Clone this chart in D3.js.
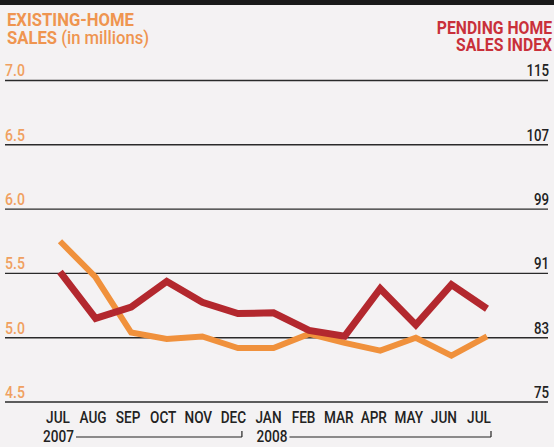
<!DOCTYPE html>
<html>
<head>
<meta charset="utf-8">
<script src="https://cdn.jsdelivr.net/npm/d3@7"></script>
<style>
  html, body { margin: 0; padding: 0; background: #f4f2f3; }
  svg { display: block; }
  text { font-family: "Roboto", "Liberation Sans", sans-serif; }
</style>
</head>
<body>
<div id="chart"></div>
<script>
// Months on the x axis (Jul 2007 - Jul 2008)
var months = ["JUL", "AUG", "SEP", "OCT", "NOV", "DEC", "JAN", "FEB", "MAR", "APR", "MAY", "JUN", "JUL"];

// Existing-home sales, millions (left axis)
var existingSales = [5.75, 5.47, 5.04, 4.99, 5.01, 4.92, 4.92, 5.03, 4.96, 4.90, 5.00, 4.86, 5.01];

// Pending home sales index (right axis)
var pendingIndex = [91.2, 85.4, 86.8, 90.0, 87.4, 86.0, 86.1, 83.9, 83.2, 89.1, 84.6, 89.6, 86.6];

var leftTicks = [4.5, 5.0, 5.5, 6.0, 6.5, 7.0];
var rightTicks = [75, 83, 91, 99, 107, 115];

// Year brackets under the month labels: [label, first month index, last month index]
var years = [["2007", 0, 5], ["2008", 6, 12]];

var width = 554, height = 447;

// squeeze text horizontally around an anchor x (no condensed font installed)
function squeeze(sel, k, ax) {
  sel.attr('transform', function(d, i) {
    var x0 = typeof ax === 'function' ? ax(d, i) : ax;
    return 'translate(' + x0 + ',0) scale(' + k + ',1) translate(' + (-x0) + ',0)';
  });
}

var svg = d3.select('#chart')
            .append('svg')
            .attr('width', width)
            .attr('height', height);

var x = d3.scalePoint()
          .domain(d3.range(months.length))
          .range([60, 487]);

var yLeft = d3.scaleLinear()
              .domain([4.5, 7.0])
              .range([402, 80.5]);

var yRight = d3.scaleLinear()
               .domain([75, 115])
               .range([402, 80.5]);

// Black rule at the top
svg.append('rect')
   .attr('x', 0).attr('y', 0)
   .attr('width', width).attr('height', 5)
   .attr('fill', '#1a1a1a');

// Titles
var leftTitle = svg.append('text')
   .attr('x', 7)
   .attr('fill', '#ef9550')
   .style('font-weight', 'bold')
   .style('font-size', '18.5px');
leftTitle.append('tspan').attr('x', 7).attr('y', 26).text('EXISTING-HOME');
var l2 = leftTitle.append('tspan').attr('x', 7).attr('y', 44);
l2.append('tspan').text('SALES ');
l2.append('tspan').style('font-weight', '500').text('(in millions)');
squeeze(leftTitle, 0.9, 7);

var rightTitle = svg.append('text')
   .attr('text-anchor', 'end')
   .attr('fill', '#c9303a')
   .style('font-weight', 'bold')
   .style('font-size', '17.5px');
rightTitle.append('tspan').attr('x', 552).attr('y', 34).text('PENDING HOME');
rightTitle.append('tspan').attr('x', 552).attr('y', 51).text('SALES INDEX');
squeeze(rightTitle, 0.9, 552);

// Grid lines (shared by both axes)
svg.append('g')
   .selectAll('line')
   .data(leftTicks)
   .enter().append('line')
   .attr('x1', 5)
   .attr('x2', 548)
   .attr('y1', function(d) { return yLeft(d); })
   .attr('y2', function(d) { return yLeft(d); })
   .attr('stroke', '#2a2a2a')
   .attr('stroke-width', 1.4);

// Left axis labels
svg.append('g')
   .selectAll('text')
   .data(leftTicks)
   .enter().append('text')
   .attr('x', 5)
   .attr('y', function(d) { return yLeft(d) - 4; })
   .attr('fill', '#f0a060')
   .style('font-size', '16px')
   .style('font-weight', '500')
   .text(function(d) { return d3.format('.1f')(d); })
   .call(squeeze, 0.88, 5);

// Right axis labels
svg.append('g')
   .selectAll('text')
   .data(rightTicks)
   .enter().append('text')
   .attr('x', 549)
   .attr('y', function(d) { return yRight(d) - 4; })
   .attr('text-anchor', 'end')
   .attr('fill', '#222')
   .style('font-size', '17px')
   .style('font-weight', '500')
   .text(function(d) { return d; })
   .call(squeeze, 0.78, 549);

// Lines
var salesLine = d3.line()
                  .x(function(d, i) { return x(i); })
                  .y(function(d) { return yLeft(d); });

var indexLine = d3.line()
                  .x(function(d, i) { return x(i); })
                  .y(function(d) { return yRight(d); });

svg.append('path')
   .datum(existingSales)
   .attr('d', salesLine)
   .attr('fill', 'none')
   .attr('stroke', '#f0913c')
   .attr('stroke-width', 6)
   .attr('stroke-linejoin', 'miter');

svg.append('path')
   .datum(pendingIndex)
   .attr('d', indexLine)
   .attr('fill', 'none')
   .attr('stroke', '#b3282e')
   .attr('stroke-width', 7)
   .attr('stroke-linejoin', 'miter');

// Month labels
var labelX = function(d, i) { return x(i) - 2 - i * 0.5; };
svg.append('g')
   .selectAll('text')
   .data(months)
   .enter().append('text')
   .attr('x', labelX)
   .attr('y', 423)
   .attr('text-anchor', 'middle')
   .attr('fill', '#222')
   .style('font-size', '17px')
   .style('font-weight', '500')
   .text(function(d) { return d; })
   .call(squeeze, 0.8, labelX);

// Year brackets
var yr = svg.append('g').selectAll('g')
            .data(years)
            .enter().append('g');

yr.append('text')
  .attr('x', function(d) { return x(d[1]) - 17; })
  .attr('y', 442)
  .attr('fill', '#222')
  .style('font-size', '16px')
  .style('font-weight', '500')
  .text(function(d) { return d[0]; })
  .call(squeeze, 0.85, function(d) { return x(d[1]) - 17; });

yr.append('line')
  .attr('x1', function(d) { return x(d[1]) + 16; })
  .attr('x2', function(d) { return x(d[2]) + 4; })
  .attr('y1', 437)
  .attr('y2', 437)
  .attr('stroke', '#222')
  .attr('stroke-width', 1.2);

yr.append('line')
  .attr('x1', function(d) { return x(d[2]) + 4; })
  .attr('x2', function(d) { return x(d[2]) + 4; })
  .attr('y1', 431)
  .attr('y2', 437)
  .attr('stroke', '#222')
  .attr('stroke-width', 1.2);
</script>
</body>
</html>
